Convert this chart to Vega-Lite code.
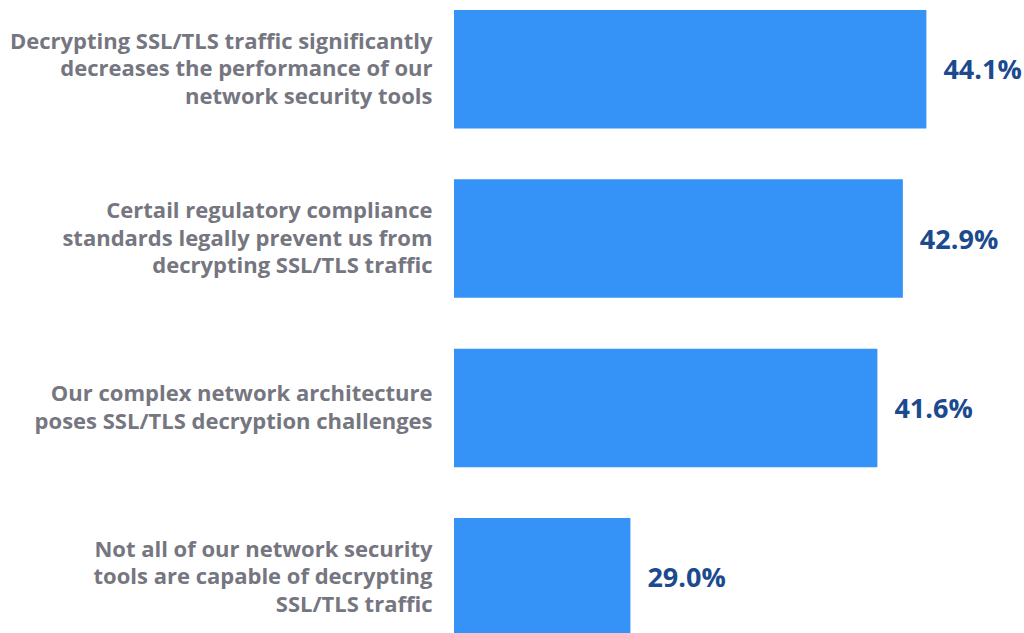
{
  "$schema": "https://vega.github.io/schema/vega-lite/v6.json",
  "autosize": {"type": "none"},
  "padding": {"left": 454, "top": 0, "right": 0, "bottom": 0},
  "width": 570,
  "height": 633,
  "background": "#ffffff",
  "config": {"view": {"stroke": null}, "font": "Open Sans"},
  "data": {
    "values": [
      {"reason": "Decrypting SSL/TLS traffic significantly\ndecreases the performance of our\nnetwork security tools", "pct": 44.1, "label": "44.1%"},
      {"reason": "Certail regulatory compliance\nstandards legally prevent us from\ndecrypting SSL/TLS traffic", "pct": 42.9, "label": "42.9%"},
      {"reason": "Our complex network architecture\nposes SSL/TLS decryption challenges", "pct": 41.6, "label": "41.6%"},
      {"reason": "Not all of our network security\ntools are capable of decrypting\nSSL/TLS traffic", "pct": 29.0, "label": "29.0%"}
    ]
  },
  "encoding": {
    "y": {
      "field": "reason", "type": "nominal", "sort": null,
      "scale": {"range": [10, 636.5], "paddingInner": 0.3, "paddingOuter": 0},
      "axis": {
        "title": null, "domain": false, "ticks": false,
        "labelExpr": "split(datum.value, '\\n')",
        "labelFont": "Open Sans", "labelFontWeight": "bold", "labelFontSize": 22,
        "labelColor": "#75767f", "labelLineHeight": 27.5, "labelPadding": 22,
        "labelLimit": 460, "labelAlign": "right", "labelBaseline": "middle",
        "labelOffset": {"condition": {"test": "indexof(datum.value, 'architecture') >= 0", "value": -13.75}, "value": -27.5}
      }
    }
  },
  "layer": [
    {
      "mark": {"type": "bar", "color": "#3592f7"},
      "encoding": {
        "x": {"field": "pct", "type": "quantitative", "scale": {"domain": [20, 49.08], "nice": false, "zero": false, "clamp": true}, "axis": null},
        "x2": {"datum": 20}
      }
    },
    {
      "mark": {"type": "text", "align": "left", "baseline": "middle", "dx": 17, "dy": 2, "font": "Open Sans", "fontWeight": "bold", "fontSize": 27, "color": "#1b4a8e"},
      "encoding": {
        "x": {"field": "pct", "type": "quantitative"},
        "text": {"field": "label"}
      }
    }
  ]
}
